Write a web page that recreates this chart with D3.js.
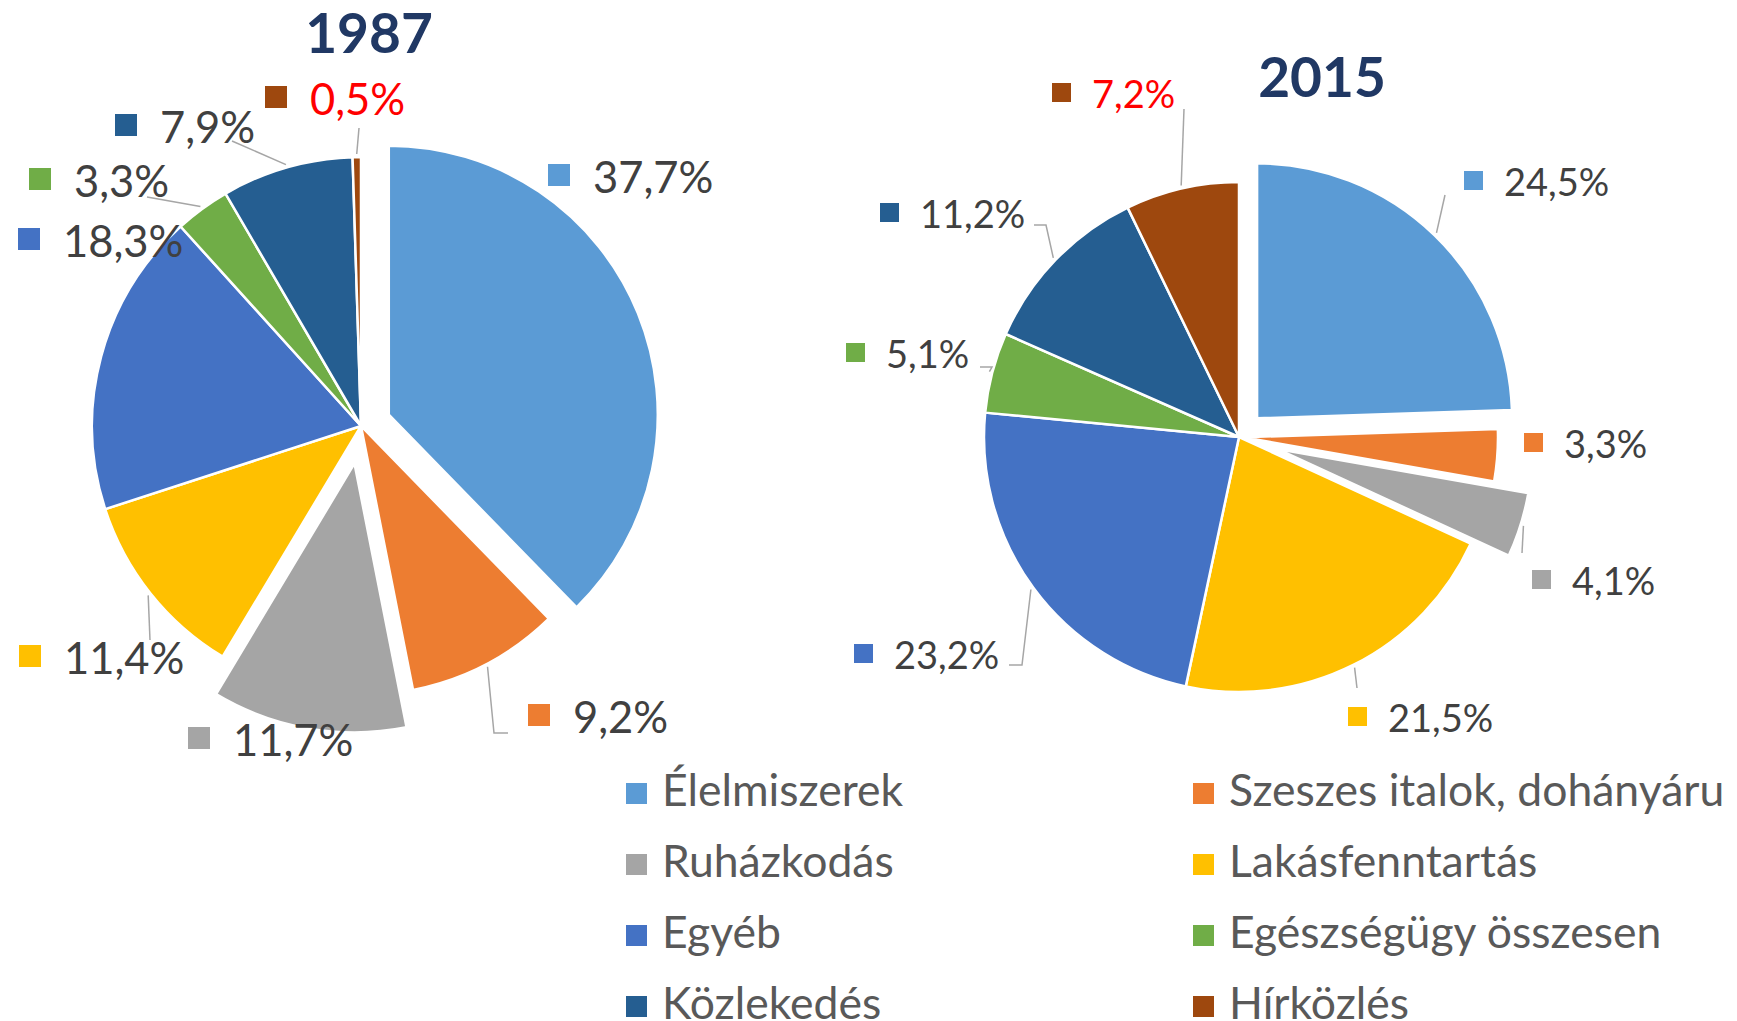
<!DOCTYPE html>
<html>
<head>
<meta charset="utf-8">
<script src="https://cdn.jsdelivr.net/npm/d3@7"></script>
<style>
  body { margin: 0; background: #fff; }
  svg { display: block; font-family: Lato, 'Open Sans', sans-serif; }
</style>
</head>
<body>
<svg id="chart"></svg>
<script>
// categories and values (percent)
const categories = ['Élelmiszerek', 'Szeszes italok, dohányáru', 'Ruházkodás', 'Lakásfenntartás',
    'Egyéb', 'Egészségügy összesen', 'Közlekedés', 'Hírközlés'];
const values1987 = [37.7, 9.2, 11.7, 11.4, 18.3, 3.3, 7.9, 0.5];
const values2015 = [24.5, 3.3, 4.1, 21.5, 23.2, 5.1, 11.2, 7.2];
const years = ['1987', '2015'];
const colors = ['#5B9BD5', '#ED7D31', '#A5A5A5', '#FFC000', '#4472C4', '#70AD47', '#255E91', '#9E480E'];
const highlighted = 'Hírközlés';

const fmt = d3.formatLocale({ decimal: ',', thousands: ' ', grouping: [3], currency: ['', ''] }).format('.1f');

class PieChart {
    constructor(_config, _data) {
        this.config = {
            parent: _config.parent,
            cx: _config.cx,
            cy: _config.cy,
            radius: _config.radius,
            title: _config.title,
            titlePos: _config.titlePos,
            explode: _config.explode,
            labels: _config.labels,
            fontSize: _config.fontSize,
            keySize: _config.keySize,
            keyGap: _config.keyGap,
            keyLift: _config.keyLift
        };
        this.data = _data;
        this.initVis();
    }

    initVis() {
        let vis = this;

        vis.g = vis.config.parent.append('g')
            .attr('transform', `translate(${vis.config.cx},${vis.config.cy})`);

        vis.config.parent.append('text')
            .attr('x', vis.config.titlePos[0])
            .attr('y', vis.config.titlePos[1])
            .attr('text-anchor', 'middle')
            .style('font-weight', 'bold')
            .style('font-size', '55px')
            .style('fill', '#203864')
            .text(vis.config.title);

        vis.pie = d3.pie().sort(null).value(d => d.value);
        vis.arc = d3.arc().innerRadius(0).outerRadius(vis.config.radius);
        vis.edge = d3.arc().innerRadius(vis.config.radius + 3).outerRadius(vis.config.radius + 3);

        vis.updateVis();
    }

    updateVis() {
        let vis = this;
        vis.arcs = vis.pie(vis.data);
        vis.arcs.forEach((a, i) => {
            const mid = (a.startAngle + a.endAngle) / 2;
            const e = vis.config.explode[i];
            a.offset = [Math.sin(mid) * e, -Math.cos(mid) * e];
        });
        vis.renderVis();
    }

    renderVis() {
        let vis = this;
        const L = vis.config.labels;

        vis.g.selectAll('path.slice')
            .data(vis.arcs)
            .join('path')
            .attr('class', 'slice')
            .attr('transform', d => `translate(${d.offset[0]},${d.offset[1]})`)
            .attr('d', vis.arc)
            .attr('fill', d => d.data.color)
            .attr('stroke', '#fff')
            .attr('stroke-width', 2.5)
            .attr('stroke-linejoin', 'round');

        vis.g.selectAll('polyline.leader')
            .data(vis.arcs.filter((d, i) => L[i].leader))
            .join('polyline')
            .attr('class', 'leader')
            .attr('points', d => {
                const c = vis.edge.centroid(d);
                const p0 = [c[0] + d.offset[0], c[1] + d.offset[1]];
                return [p0].concat(L[d.index].leader).map(p => p.join(',')).join(' ');
            })
            .attr('fill', 'none')
            .attr('stroke', '#A6A6A6')
            .attr('stroke-width', 1.5);

        vis.g.selectAll('rect.key')
            .data(vis.arcs)
            .join('rect')
            .attr('class', 'key')
            .attr('x', d => L[d.index].x - vis.config.keyGap)
            .attr('y', d => L[d.index].y - vis.config.keyLift - vis.config.keySize)
            .attr('width', vis.config.keySize)
            .attr('height', vis.config.keySize)
            .attr('fill', d => d.data.color);

        vis.g.selectAll('text.val')
            .data(vis.arcs)
            .join('text')
            .attr('class', 'val')
            .attr('x', d => L[d.index].x)
            .attr('y', d => L[d.index].y)
            .style('font-size', vis.config.fontSize + 'px')
            .style('fill', d => d.data.name === highlighted ? '#FF0000' : '#404040')
            .text(d => fmt(d.value) + '%');
    }
}

const svg = d3.select('#chart')
    .attr('width', 1737)
    .attr('height', 1021);

const makeData = vals => categories.map((c, i) => ({ name: c, value: vals[i], color: colors[i] }));

// label placement, relative to pie centre (text start, baseline) and leader end points
const labels1987 = [
    { x: 232, y: -233 },
    { x: 212, y: 307, leader: [[133, 307], [147, 307]] },
    { x: -128, y: 330 },
    { x: -297, y: 248, leader: [[-211, 214]] },
    { x: -298, y: -169 },
    { x: -287, y: -229, leader: [[-214, -229]] },
    { x: -201, y: -283, leader: [[-129, -285]] },
    { x: -51, y: -311, leader: [[-2, -298]] }
];
const labels2015 = [
    { x: 265, y: -241, leader: [[206, -242]] },
    { x: 325, y: 21 },
    { x: 333, y: 158, leader: [[283, 116]] },
    { x: 149, y: 295, leader: [[118, 251]] },
    { x: -345, y: 232, leader: [[-217, 228], [-230, 228]] },
    { x: -353, y: -69, leader: [[-247, -70], [-259, -70]] },
    { x: -319, y: -209, leader: [[-193, -212], [-205, -212]] },
    { x: -147, y: -329, leader: [[-55, -328]] }
];

new PieChart({
    parent: svg, cx: 361, cy: 426, radius: 269,
    title: years[0], titlePos: [369, 53],
    explode: [30, 0, 38, 0, 0, 0, 0, 0],
    labels: labels1987,
    fontSize: 43.5, keySize: 22, keyGap: 45, keyLift: 7
}, makeData(values1987));

new PieChart({
    parent: svg, cx: 1239, cy: 437, radius: 255,
    title: years[1], titlePos: [1322, 97],
    explode: [26, 4, 40, 0, 0, 0, 0, 0],
    labels: labels2015,
    fontSize: 38, keySize: 19, keyGap: 40, keyLift: 6
}, makeData(values2015));

// legend: two columns, four rows
const legend = svg.append('g');
const item = legend.selectAll('g.item')
    .data(categories)
    .join('g')
    .attr('class', 'item')
    .attr('transform', (d, i) => `translate(${i % 2 === 0 ? 626 : 1193},${806 + Math.floor(i / 2) * 71})`);

item.append('rect')
    .attr('x', 0)
    .attr('y', -23)
    .attr('width', 21)
    .attr('height', 21)
    .attr('fill', (d, i) => colors[i]);

item.append('text')
    .attr('x', 36)
    .attr('y', 0)
    .style('font-size', '44.5px')
    .style('fill', '#595959')
    .text(d => d);
</script>
</body>
</html>
